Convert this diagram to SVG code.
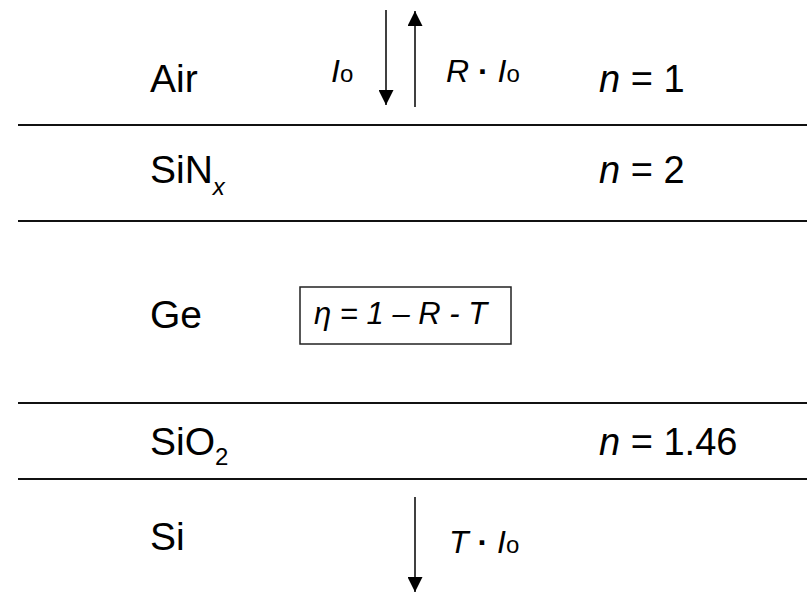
<svg xmlns="http://www.w3.org/2000/svg" width="807" height="593" viewBox="0 0 807 593">
<defs>
<marker id="ah" viewBox="0 0 15 15" refX="15" refY="7.5" markerWidth="15" markerHeight="15" markerUnits="userSpaceOnUse" orient="auto">
<path d="M0,0 L15,7.5 L0,15 z" fill="#000"/>
</marker>
<style>
text{font-family:"Liberation Sans",Arial,sans-serif;fill:#000}
.big{font-size:39px}
.nv{font-size:38px}
.lab{font-size:32px;font-style:italic}
.sub{font-size:24px;font-style:normal}
.dot{font-weight:bold;font-style:normal}
.layer{stroke:#111;stroke-width:2}
.arrow{stroke:#000;stroke-width:1.5;fill:none}
</style>
</defs>
<rect width="807" height="593" fill="#fff"/>
<g id="layers">
<line class="layer" x1="18" y1="125" x2="807" y2="125"/>
<line class="layer" x1="18" y1="221" x2="807" y2="221" stroke="#444"/>
<line class="layer" x1="18" y1="403" x2="807" y2="403"/>
<line class="layer" x1="18" y1="479" x2="807" y2="479"/>
</g>
<g id="air"><text class="big" x="150" y="92">Air</text><text class="nv" x="599" y="92"><tspan font-style="italic">n</tspan> = 1</text></g>
<g id="sinx"><text class="big" x="150" y="183">SiN<tspan font-size="24" font-style="italic" dy="12">x</tspan></text><text class="nv" x="599" y="183"><tspan font-style="italic">n</tspan> = 2</text></g>
<g id="ge"><text class="big" x="150" y="328">Ge</text>
<rect x="300" y="287" width="211" height="57" fill="none" stroke="#222" stroke-width="1.5"/>
<text x="314" y="324" font-size="31" font-style="italic">η = 1 – R - T</text></g>
<g id="sio2"><text class="big" x="150" y="455">SiO<tspan font-size="24" dy="10">2</tspan></text><text class="nv" x="599" y="455"><tspan font-style="italic">n</tspan> = 1.46</text></g>
<g id="si"><text class="big" x="150" y="550">Si</text></g>
<g id="connectors">
<line class="arrow" x1="386" y1="10" x2="386" y2="105" marker-end="url(#ah)"/>
<line class="arrow" x1="415" y1="107" x2="415" y2="11" marker-end="url(#ah)"/>
<line class="arrow" x1="415" y1="497" x2="415" y2="592" marker-end="url(#ah)"/>
</g>
<g id="labels">
<text class="lab" x="331" y="82">I<tspan class="sub">o</tspan></text>
<text class="lab" x="446" y="82">R <tspan class="dot">·</tspan> I<tspan class="sub">o</tspan></text>
<text class="lab" x="449" y="553">T <tspan class="dot">·</tspan> I<tspan class="sub">o</tspan></text>
</g>
</svg>
